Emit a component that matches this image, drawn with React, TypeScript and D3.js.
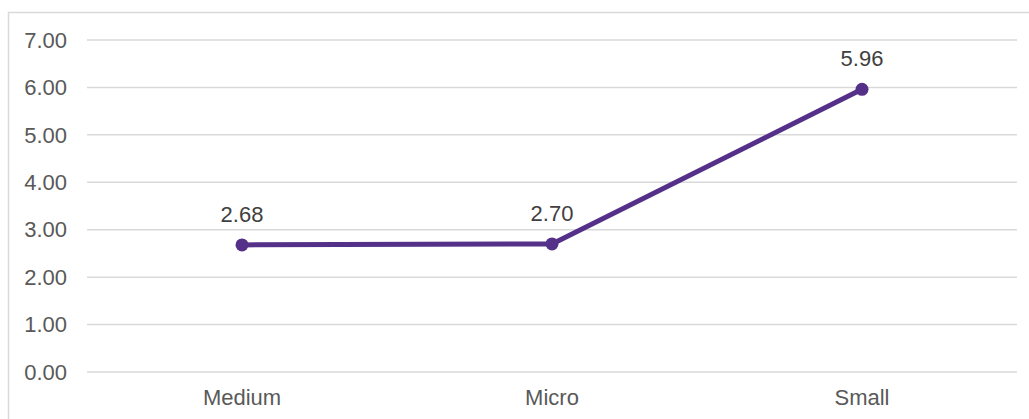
import React, { useEffect, useRef } from 'react';
import * as d3 from 'd3';

const categories = ['Medium', 'Micro', 'Small'];
const values = [2.68, 2.7, 5.96];
const yTicks = [0, 1, 2, 3, 4, 5, 6, 7];

const width = 1029;
const height = 419;

export default function App() {
  const svgRef = useRef<SVGSVGElement>(null);

  useEffect(() => {
    if (!svgRef.current) return;
    const svg = d3.select(svgRef.current);
    svg.selectAll('*').remove();

    const font = 'Liberation Sans, Arial, sans-serif';
    const textColor = '#595959';
    const lineColor = '#553088';

    // chart frame (cut off at right and bottom)
    svg.append('rect')
      .attr('x', 8.5)
      .attr('y', 12.5)
      .attr('width', width + 20)
      .attr('height', height + 20)
      .attr('fill', '#fff')
      .attr('stroke', '#d9d9d9')
      .attr('stroke-width', 1.5);

    const left = 87;
    const right = 1017;
    const x = d3.scaleBand<string>().domain(categories).range([left, right]);
    const y = d3.scaleLinear().domain([0, 7]).range([372, 40]);

    // gridlines
    svg.append('g')
      .selectAll('line')
      .data(yTicks)
      .enter().append('line')
      .attr('x1', left)
      .attr('x2', right)
      .attr('y1', d => y(d))
      .attr('y2', d => y(d))
      .attr('stroke', '#d9d9d9')
      .attr('stroke-width', 1.5);

    // y labels
    svg.append('g')
      .selectAll('text')
      .data(yTicks)
      .enter().append('text')
      .attr('x', 67)
      .attr('y', d => y(d))
      .attr('dy', '0.35em')
      .attr('text-anchor', 'end')
      .attr('font-family', font)
      .attr('font-size', '22px')
      .attr('fill', textColor)
      .text(d => d.toFixed(2));

    // x labels
    svg.append('g')
      .selectAll('text')
      .data(categories)
      .enter().append('text')
      .attr('x', d => x(d)! + x.bandwidth() / 2)
      .attr('y', 405)
      .attr('text-anchor', 'middle')
      .attr('font-family', font)
      .attr('font-size', '22px')
      .attr('fill', textColor)
      .text(d => d);

    const pts = categories.map((c, i) => ({ c, v: values[i] }));
    const line = d3.line<{ c: string; v: number }>()
      .x(d => x(d.c)! + x.bandwidth() / 2)
      .y(d => y(d.v));

    svg.append('path')
      .datum(pts)
      .attr('d', line)
      .attr('fill', 'none')
      .attr('stroke', lineColor)
      .attr('stroke-width', 5)
      .attr('stroke-linejoin', 'round');

    svg.append('g')
      .selectAll('circle')
      .data(pts)
      .enter().append('circle')
      .attr('cx', d => x(d.c)! + x.bandwidth() / 2)
      .attr('cy', d => y(d.v))
      .attr('r', 6.5)
      .attr('fill', lineColor);

    // data labels
    svg.append('g')
      .selectAll('text')
      .data(pts)
      .enter().append('text')
      .attr('x', d => x(d.c)! + x.bandwidth() / 2)
      .attr('y', d => y(d.v) - 31)
      .attr('dy', '0.35em')
      .attr('text-anchor', 'middle')
      .attr('font-family', font)
      .attr('font-size', '22px')
      .attr('fill', '#404040')
      .text(d => d.v.toFixed(2));
  }, []);

  return (
    <div style={{ position: 'fixed', left: 0, top: 0, background: '#fff' }}>
      <svg ref={svgRef} width={width} height={height} style={{ display: 'block' }} />
    </div>
  );
}
